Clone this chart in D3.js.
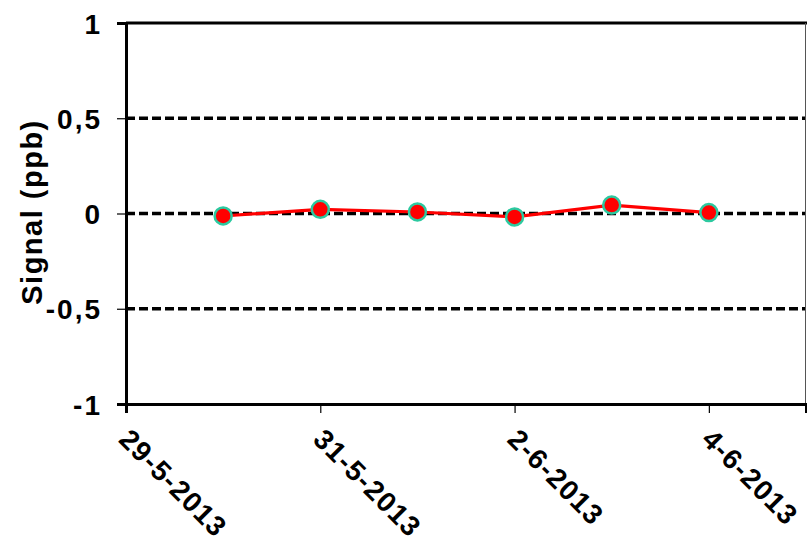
<!DOCTYPE html>
<html><head><meta charset="utf-8">
<script src="https://cdn.jsdelivr.net/npm/d3@7"></script>
<style>body{margin:0;background:#fff}svg{display:block}text{font-family:"Liberation Sans",Arial,sans-serif;font-weight:bold;fill:#000}</style>
</head><body><svg id="c" width="807" height="544"></svg>
<script>
const dates = ["2013-05-30","2013-05-31","2013-06-01","2013-06-02","2013-06-03","2013-06-04"];
const signal = [-0.013, 0.022, 0.008, -0.018, 0.044, 0.005];
const xTickDates = ["2013-05-29","2013-05-31","2013-06-02","2013-06-04"];
const yTicks = [-1, -0.5, 0, 0.5, 1];
const gridValues = [-0.5, 0, 0.5];
const xDomain = ["2013-05-29","2013-06-05"];
const yLabel = "Signal (ppb)";

const parse = d3.timeParse("%Y-%m-%d");
const svg = d3.select("#c");
const L = 126, R = 806, T = 23, B = 404;
const x = d3.scaleTime().domain(xDomain.map(parse)).range([L, R]);
const y = d3.scaleLinear().domain([-1, 1]).range([B, T]);

// gridlines
svg.append("g").selectAll("line").data(gridValues).join("line")
  .attr("x1", L).attr("x2", 805).attr("y1", d => y(d)).attr("y2", d => y(d))
  .attr("stroke", "#000").attr("stroke-width", 3.5).attr("stroke-dasharray", "9,4");

// frame: top and right
svg.append("line").attr("x1", L).attr("x2", 807).attr("y1", T).attr("y2", T).attr("stroke", "#000").attr("stroke-width", 3);
svg.append("line").attr("x1", 805.5).attr("x2", 805.5).attr("y1", T).attr("y2", B).attr("stroke", "#555").attr("stroke-width", 1);

// y axis
const fmt = v => String(v).replace(".", ",");
const ya = svg.append("g").attr("transform", `translate(${L},0)`)
  .call(d3.axisLeft(y).tickValues(yTicks).tickFormat(fmt).tickSize(9).tickPadding(15));
ya.select(".domain").attr("stroke", "#000").attr("stroke-width", 3);
ya.selectAll(".tick line").attr("stroke", "#000").attr("stroke-width", 1.2);
ya.selectAll(".tick text").attr("font-size", 28).attr("letter-spacing", 2).attr("font-family", '"Liberation Sans",Arial,sans-serif').attr("font-weight", "bold").attr("dy", "0.36em");

// x axis
const xa = svg.append("g").attr("transform", `translate(0,${B})`)
  .call(d3.axisBottom(x).tickValues(xTickDates.map(parse)).tickSize(9).tickFormat(d3.timeFormat("%-d-%-m-%Y")));
xa.select(".domain").attr("stroke", "#000").attr("stroke-width", 3);
xa.selectAll(".tick line").attr("stroke", "#000").attr("stroke-width", 1.2);
xa.selectAll(".tick text").attr("font-size", 28).attr("letter-spacing", 1.2).attr("font-family", '"Liberation Sans",Arial,sans-serif').attr("font-weight", "bold")
  .attr("text-anchor", "start").attr("dy", 0).attr("y", 0)
  .attr("transform", "translate(-9,37) rotate(45)");

// y label
svg.append("text").attr("transform", "translate(42,212) rotate(-90)")
  .attr("text-anchor", "middle").attr("font-size", 29).attr("letter-spacing", 1.5).text(yLabel);

// line + markers
const pts = dates.map((d, i) => ({ d: parse(d), v: signal[i] }));
svg.append("path").datum(pts)
  .attr("d", d3.line().x(p => x(p.d)).y(p => y(p.v)))
  .attr("fill", "none").attr("stroke", "#ff0000").attr("stroke-width", 3.2);
svg.append("g").selectAll("circle").data(pts).join("circle")
  .attr("cx", p => x(p.d)).attr("cy", p => y(p.v)).attr("r", 8.5)
  .attr("fill", "#ff0000").attr("stroke", "#2cc9a0").attr("stroke-width", 2.5);
</script></body></html>
